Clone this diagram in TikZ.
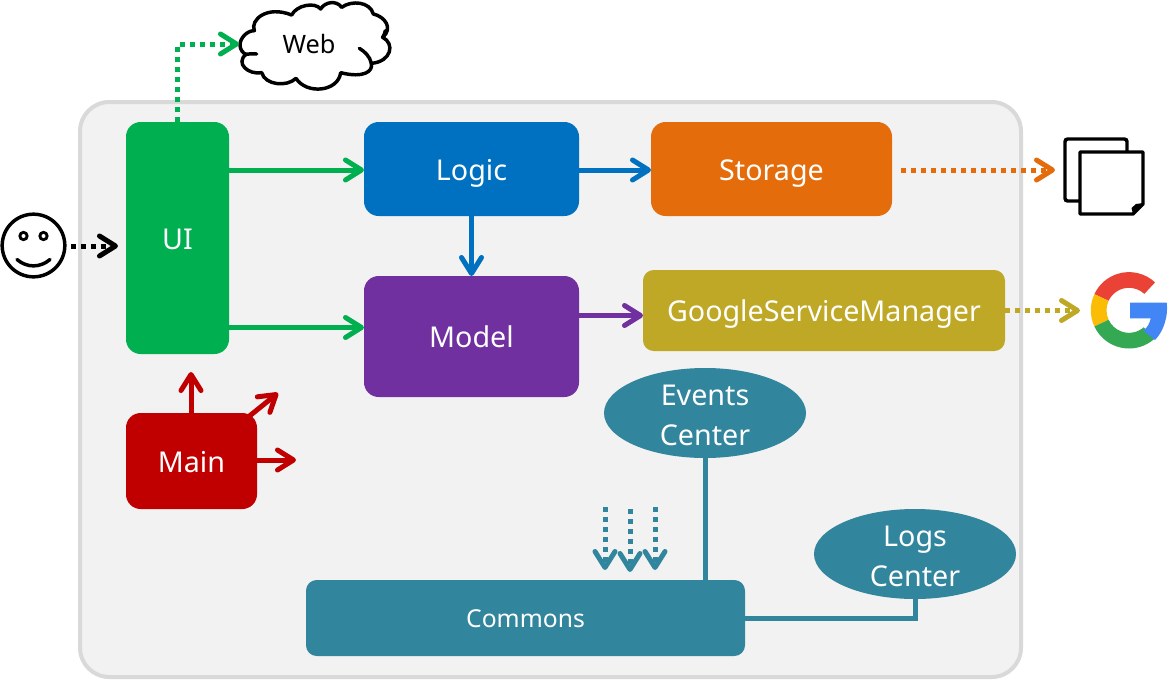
\documentclass[tikz,border=0pt]{standalone}
\usepackage{fontspec}
\setmainfont{Noto Sans}
\usetikzlibrary{arrows.meta,shapes.geometric,calc}
\definecolor{cgreen}{HTML}{00B050}
\definecolor{cblue}{HTML}{0070C0}
\definecolor{corange}{HTML}{E46C0A}
\definecolor{cpurple}{HTML}{7030A0}
\definecolor{cgold}{HTML}{BFA826}
\definecolor{cred}{HTML}{C00000}
\definecolor{cteal}{HTML}{31859C}
\definecolor{gred}{HTML}{EA4335}
\definecolor{gyellow}{HTML}{FBBC05}
\definecolor{ggreen}{HTML}{34A853}
\definecolor{gblue}{HTML}{4285F4}
\newcommand{\gring}[3]{\fill[#1] ($(gc)+(#2:38.2)$) arc[start angle=#2,end angle=#3,radius=38.2] -- ($(gc)+(#3:22.5)$) arc[start angle=#3,end angle=#2,radius=22.5] -- cycle;}
\tikzset{
  x=0.75pt,y=0.75pt,
  panel/.style={draw=black!15,line width=3pt,fill=black!5,rounded corners=22pt},
  compbox/.style={rectangle,rounded corners=11pt,text=white,font=\fontsize{21.5}{25}\selectfont,inner sep=0pt,outer sep=0pt,text height=16.5pt,text depth=0pt},
  compell/.style={ellipse,fill=cteal,text=white,font=\fontsize{21.5}{30}\selectfont,align=center,inner xsep=0pt,inner ysep=-4pt,outer sep=0pt,minimum width=151.5pt,minimum height=67.5pt},
  solidarrow/.style={line width=3.75pt,-{Straight Barb[length=12pt,width=15pt,line width=3.75pt,round]},line cap=butt},
  dotarrow/.style={line width=3.75pt,dash pattern=on 3.75pt off 3.75pt,-{Straight Barb[length=12pt,width=15pt,line width=3.75pt,round]}},
  linkline/.style={line width=3.75pt,cteal},
  outline/.style={draw=black,line width=2.6pt},
}
\begin{document}
\begin{tikzpicture}
\useasboundingbox (0,0) rectangle (1171,-679);
\fill[white] (0,0) rectangle (1171,-679);
% panel
\path[panel] (80,-102) rectangle (1021,-677);
% ellipses
\node[compell] (events) at (705,-413) {\rule{0pt}{19pt}Events\\Center};
\node[compell] (logs) at (915,-554) {\rule{0pt}{19pt}Logs\\Center};
% boxes
\node[compbox,fill=cgreen,minimum width=77.25pt,minimum height=174pt] (ui) at (177.5,-238) {UI};
\node[compbox,fill=cblue,minimum width=161.25pt,minimum height=70.5pt] (logic) at (471.5,-169) {Logic};
\node[compbox,fill=corange,minimum width=180.75pt,minimum height=70.5pt] (storage) at (771.5,-169) {Storage};
\node[compbox,fill=cpurple,minimum width=161.25pt,minimum height=90.75pt] (model) at (471.5,-336.5) {Model};
\node[compbox,fill=cgold,rounded corners=8pt,minimum width=271.5pt,minimum height=60.75pt] (gsm) at (824,-310.5) {GoogleServiceManager};
\node[compbox,fill=cred,minimum width=98.25pt,minimum height=72pt] (main) at (191.5,-461) {Main};
\node[compbox,fill=cteal,rounded corners=8pt,minimum width=329.25pt,minimum height=57pt,font=\fontsize{18.5}{22}\selectfont,text height=13.5pt] (commons) at (525.5,-618) {Commons};
% cloud
\begin{scope}[shift={(160,0)},scale=1/3]
\draw[outline,fill=white,line cap=round,line join=round]
  (240,-135) .. controls (240,-115) and (260,-92) .. (283,-92)
  .. controls (270,-60) and (320,-15) .. (395,-45)
  .. controls (410,-15) and (465,-5) .. (482,-27)
  .. controls (495,-5) and (530,0) .. (545,-22)
  .. controls (575,0) and (630,-5) .. (640,-42)
  .. controls (675,-50) and (700,-85) .. (668,-112)
  .. controls (705,-130) and (695,-185) .. (634,-190)
  .. controls (640,-215) and (610,-235) .. (542,-218)
  .. controls (535,-275) and (440,-285) .. (408,-235)
  .. controls (380,-262) and (315,-255) .. (305,-218)
  .. controls (265,-225) and (225,-190) .. (258,-163)
  .. controls (250,-160) and (240,-150) .. (240,-135) -- cycle;
\draw[outline,line cap=round] (258,-163) .. controls (268,-161) and (278,-161) .. (290,-162);
\draw[outline,line cap=round] (634,-190) .. controls (630,-170) and (615,-155) .. (598,-145);
\draw[outline,line cap=round] (668,-112) .. controls (672,-105) and (675,-100) .. (676,-92);
\end{scope}
\node[font=\fontsize{19}{22}\selectfont,minimum width=105pt,inner sep=0pt,outer sep=0pt] (web) at (309,-44) {Web};
% smiley
\node[circle,draw=black,line width=2.6pt,fill=white,minimum width=47pt,inner sep=0pt,outer sep=0pt] (user) at (33.5,-245.5) {};
\fill[black] (23.5,-236) circle (5.2);
\fill[white] (23.5,-236) circle (2);
\fill[black] (43.5,-236) circle (5.2);
\fill[white] (43.5,-236) circle (2);
\draw[line width=2.6pt,line cap=round] (17,-259.5) .. controls (27,-268) and (40,-268) .. (50,-259.5);
% documents icon
\node[rectangle,draw=black,line width=2.6pt,fill=white,rounded corners=2pt,minimum width=46.5pt,minimum height=46.5pt,inner sep=0pt,outer sep=0pt] (docback) at (1096,-170) {};
\draw[outline,fill=white,line join=round] (1080,-152) -- (1143,-152) -- (1143,-204) -- (1133,-214) -- (1080,-214) -- cycle;
\fill[black] (1143,-203) -- (1133,-214) -- (1131.5,-208) -- (1136,-204) -- cycle;
\coordinate (docs) at (1055,-170);
% Google logo
\coordinate (gc) at (1129,-310.3);
\gring{gred}{47}{155}
\gring{gyellow}{155}{205}
\gring{ggreen}{205}{311}
\fill[gblue] (1130,-302.7) -- (1166.7,-302.7) .. controls (1168.5,-315) and (1164,-331) .. (1155,-340)
  -- (1143.3,-330.7) .. controls (1147,-328) and (1150,-323) .. (1150.7,-318.3) -- (1130,-318.3) -- cycle;
\coordinate (glogo) at (1080,-310.5);
% free ends
\coordinate (mainup) at (191,-372);
\coordinate (maindiag) at (278,-393);
\coordinate (mainright) at (296,-460);
\coordinate (c1s) at (605,-507);
\coordinate (c1e) at (605,-570);
\coordinate (c2s) at (630,-509);
\coordinate (c2e) at (630,-572);
\coordinate (c3s) at (655,-507);
\coordinate (c3e) at (655,-570);
\coordinate (uiin) at (118,-246);
% connectors
\draw[dotarrow,cgreen] (ui.north) -- (ui.north |- web.west) -- (web.west);
\draw[solidarrow,cgreen] ($(ui.east |- logic.west)+(0,-1)$) -- ($(logic.west)+(0,-1)$);
\draw[solidarrow,cgreen] ($(ui.east |- model.west)+(0,9)$) -- ($(model.west)+(0,9)$);
\draw[solidarrow,cblue] ($(logic.east)+(0,-1)$) -- ($(storage.west)+(0,-1)$);
\draw[solidarrow,cblue] (logic.south) -- (model.north);
\draw[solidarrow,cpurple] ($(model.east |- gsm.west)+(0,-5)$) -- ($(gsm.west)+(0,-5)$);
\draw[dotarrow,corange] ($(storage.east)+(9,-1)$) -- (docs);
\draw[dotarrow,cgold] (gsm.east) -- (glogo);
\draw[dotarrow,black] ($(user.east)+(6,-0.5)$) -- (uiin);
\draw[solidarrow,cred] (main.north -| mainup) -- (mainup);
\draw[solidarrow,cred] ($(main.north east)+(-10,-5)$) -- (maindiag);
\draw[solidarrow,cred] (main.east |- mainright) -- (mainright);
\draw[dotarrow,cteal] (c1s) -- (c1e);
\draw[dotarrow,cteal] (c2s) -- (c2e);
\draw[dotarrow,cteal] (c3s) -- (c3e);
\draw[linkline] (events.south) -- (events.south |- commons.north);
\draw[linkline] (logs.south) -- (logs.south |- commons.east) -- (commons.east);
\end{tikzpicture}
\end{document}
